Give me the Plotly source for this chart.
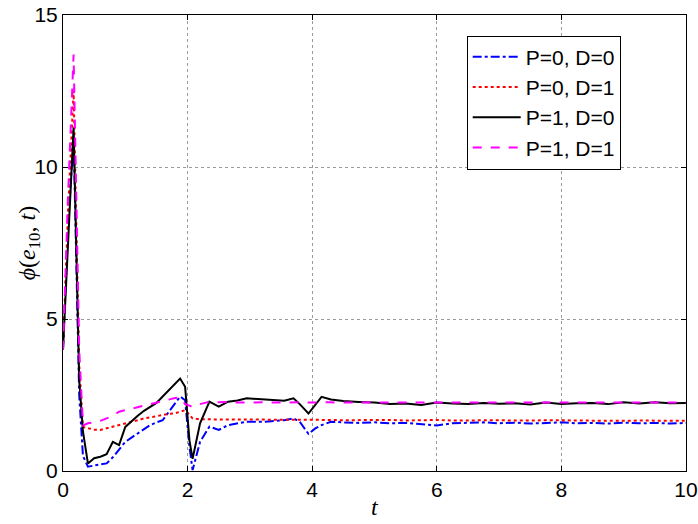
import plotly.graph_objects as go

t = [0, 0.08, 0.17, 0.26, 0.32, 0.4, 0.5, 0.6, 0.7, 0.8,
     0.9, 1.0, 1.1, 1.2, 1.3, 1.4, 1.5, 1.6, 1.7, 1.8,
     1.88, 1.96, 2.03, 2.08, 2.2, 2.35, 2.5, 2.65, 2.8, 2.95,
     3.1, 3.25, 3.4, 3.55, 3.7, 3.8, 3.94, 4.05, 4.15, 4.3,
     4.5, 4.75, 5.0, 5.25, 5.5, 5.75, 6.0, 6.25, 6.5, 6.75,
     7.0, 7.25, 7.5, 7.75, 8.0, 8.25, 8.5, 8.75, 9.0, 9.25,
     9.5, 9.75, 10.0]

p0_d0 = [4.0, 8.0, 11.0, 2.5, 0.5, 0.14, 0.18, 0.22, 0.25, 0.45,
         0.69, 0.96, 1.10, 1.24, 1.38, 1.51, 1.60, 1.67, 1.95, 2.25,
         2.45, 2.33, 0.80, 0.03, 0.96, 1.46, 1.35, 1.51, 1.57, 1.62,
         1.62, 1.62, 1.65, 1.67, 1.73, 1.62, 1.22, 1.40, 1.51, 1.62,
         1.60, 1.58, 1.60, 1.57, 1.58, 1.55, 1.50, 1.57, 1.58, 1.60,
         1.57, 1.59, 1.56, 1.58, 1.60, 1.57, 1.58, 1.56, 1.59, 1.57,
         1.58, 1.56, 1.58]

p0_d1 = [4.0, 8.5, 12.5, 3.5, 1.45, 1.40, 1.36, 1.35, 1.40, 1.46,
         1.52, 1.57, 1.62, 1.67, 1.73, 1.76, 1.80, 1.84, 1.88, 1.90,
         1.95, 2.00, 1.85, 1.73, 1.70, 1.70, 1.69, 1.70, 1.68, 1.69,
         1.70, 1.68, 1.69, 1.70, 1.68, 1.69, 1.68, 1.69, 1.70, 1.68,
         1.67, 1.68, 1.67, 1.68, 1.66, 1.67, 1.68, 1.66, 1.67, 1.66,
         1.67, 1.66, 1.67, 1.66, 1.67, 1.66, 1.65, 1.66, 1.65, 1.66,
         1.65, 1.66, 1.65]

p1_d0 = [4.0, 7.5, 11.3, 3.0, 1.3, 0.25, 0.42, 0.47, 0.55, 0.96,
         0.85, 1.45, 1.65, 1.82, 1.98, 2.11, 2.24, 2.45, 2.65, 2.85,
         3.04, 2.77, 1.00, 0.40, 1.57, 2.28, 2.12, 2.28, 2.32, 2.39,
         2.37, 2.35, 2.33, 2.31, 2.39, 2.20, 1.89, 2.17, 2.44, 2.35,
         2.30, 2.27, 2.25, 2.20, 2.22, 2.17, 2.25, 2.22, 2.20, 2.24,
         2.21, 2.23, 2.19, 2.25, 2.20, 2.23, 2.24, 2.20, 2.26, 2.22,
         2.26, 2.23, 2.24]

p1_d1 = [4.0, 9.0, 13.7, 4.0, 1.5, 1.57, 1.60, 1.65, 1.73, 1.82,
         1.95, 2.00, 2.05, 2.10, 2.17, 2.22, 2.26, 2.30, 2.36, 2.40,
         2.42, 2.20, 2.15, 2.11, 2.20, 2.28, 2.26, 2.27, 2.25, 2.26,
         2.25, 2.26, 2.25, 2.26, 2.25, 2.26, 2.25, 2.26, 2.25, 2.26,
         2.25, 2.26, 2.25, 2.25, 2.26, 2.25, 2.25, 2.26, 2.25, 2.25,
         2.26, 2.25, 2.25, 2.26, 2.25, 2.25, 2.26, 2.25, 2.25, 2.26,
         2.25, 2.25, 2.25]

names = ["P=0, D=0", "P=0, D=1", "P=1, D=0", "P=1, D=1"]
series = [p0_d0, p0_d1, p1_d0, p1_d1]
colors = ["#0000FF", "#FF0000", "#000000", "#FF00FF"]
dashes = ["dashdot", "dot", "solid", "dash"]
x_ticks = [0, 2, 4, 6, 8, 10]
y_ticks = [0, 5, 10, 15]
x_title = "<i>t</i>"
y_title = "<i>ϕ</i>(<i>e</i><sub>10</sub>, <i>t</i>)"

fig = go.Figure()
for nm, ys, c, d in zip(names, series, colors, dashes):
    fig.add_trace(go.Scatter(x=t, y=ys, mode="lines", name=nm,
                             line=dict(color=c, dash=d, width=2)))

axis_common = dict(showline=True, mirror="ticks", linecolor="black", linewidth=1,
                   ticks="inside", ticklen=5, tickcolor="black",
                   showgrid=True, gridcolor="#9a9a9a", griddash="dot", gridwidth=1,
                   zeroline=False, automargin=False,
                   tickfont=dict(family="Liberation Sans, Arial", size=21, color="black"))

fig.update_xaxes(range=[0, 10], tickvals=x_ticks, **axis_common)
fig.update_yaxes(range=[0, 15], tickvals=y_ticks, **axis_common)

title_font = dict(family="Liberation Serif", size=24, color="black")
fig.add_annotation(text=x_title, xref="paper", yref="paper", x=0.5, y=-0.079,
                   xanchor="center", yanchor="middle", showarrow=False, font=title_font)
fig.add_annotation(text=y_title, xref="paper", yref="paper", x=-0.054, y=0.5,
                   xanchor="center", yanchor="middle", textangle=-90,
                   showarrow=False, font=title_font)

fig.update_layout(
    width=698, height=524,
    margin=dict(l=63, r=12, t=15, b=53),
    paper_bgcolor="white", plot_bgcolor="white",
    showlegend=True,
    legend=dict(x=0.648, y=0.955, xanchor="left", yanchor="top",
                bgcolor="white", bordercolor="black", borderwidth=1,
                font=dict(family="Liberation Sans, Arial", size=21, color="black"),
                tracegroupgap=0, itemwidth=48, entrywidth=182, entrywidthmode="pixels"),
)

fig.write_html("out.html", config={"displayModeBar": False},
               post_script="document.body.style.margin='0px';document.body.style.overflow='hidden';")
